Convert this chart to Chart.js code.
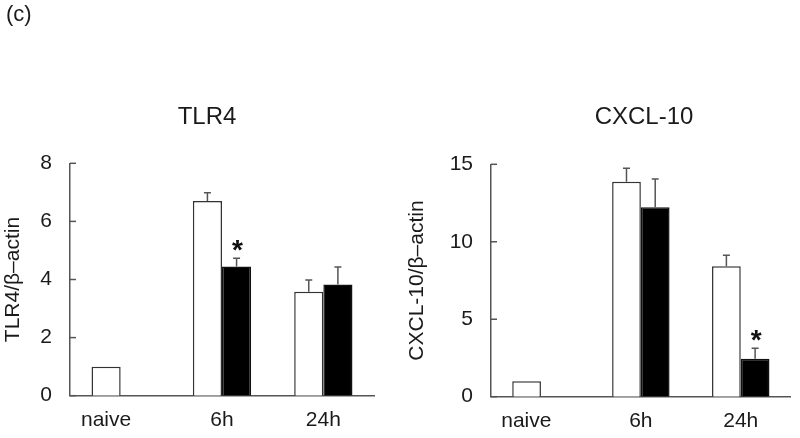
<!DOCTYPE html>
<html><head><meta charset="utf-8">
<script src="https://cdn.jsdelivr.net/npm/chart.js@4.4.1/dist/chart.umd.min.js"></script>
<style>
html,body{margin:0;padding:0;background:#fff;overflow:hidden;}
#wrap{position:relative;width:800px;height:438px;}
canvas{position:absolute;top:0;}
#c1{left:0;} #c2{left:400px;}
#lab{position:absolute;left:6px;top:2.5px;font:22px "Liberation Sans",Arial,sans-serif;line-height:1;color:#1a1a1a;}
</style></head><body>
<div id="wrap"><canvas id="c1" width="400" height="438"></canvas><canvas id="c2" width="400" height="438"></canvas><div id="lab">(c)</div></div>
<script>
// ---- data ----
const categories = ["naive", "6h", "24h"];
const tlr4White = [1.0, 6.70, 3.58];
const tlr4WhiteErr = [0, 0.29, 0.40];
const tlr4Black = [null, 4.45, 3.83];
const tlr4BlackErr = [0, 0.28, 0.60];
const tlr4BlackSig = [false, true, false];
const tlr4Max = 8, tlr4Step = 2;

const cxclWhite = [1.0, 13.88, 8.42];
const cxclWhiteErr = [0, 0.86, 0.71];
const cxclBlack = [null, 12.23, 2.45];
const cxclBlackErr = [0, 1.82, 0.67];
const cxclBlackSig = [false, false, true];
const cxclMax = 15, cxclStep = 5;

const FONT = '"Liberation Sans", Arial, sans-serif';
const TEXT = '#1a1a1a';
const LINE = '#555';

const extras = {
  id: 'extras',
  afterDatasetsDraw(chart, args, opts) {
    const ctx = chart.ctx, y = chart.scales.y, area = chart.chartArea;
    ctx.save();
    ctx.strokeStyle = LINE; ctx.lineWidth = 1.5;
    chart.data.datasets.forEach((ds, di) => {
      const meta = chart.getDatasetMeta(di);
      meta.data.forEach((bar, i) => {
        const v = ds.data[i], e = ds.errors[i];
        if (v == null) return;
        const top = y.getPixelForValue(v + (e || 0));
        if (e) {
          ctx.beginPath();
          ctx.moveTo(bar.x, bar.y); ctx.lineTo(bar.x, top);
          ctx.moveTo(bar.x - 3.5, top); ctx.lineTo(bar.x + 3.5, top);
          ctx.stroke();
        }
        if (ds.sig && ds.sig[i]) {
          ctx.fillStyle = '#111'; ctx.font = 'bold 28px ' + FONT;
          ctx.textAlign = 'center'; ctx.textBaseline = 'alphabetic';
          ctx.fillText('*', bar.x + 1, top + 1);
        }
      });
    });
    ctx.strokeStyle = LINE; ctx.lineWidth = 1.5;
    y.ticks.forEach(t => {
      const py = y.getPixelForValue(t.value);
      ctx.beginPath(); ctx.moveTo(area.left, py); ctx.lineTo(area.left + 6, py); ctx.stroke();
    });
    ctx.fillStyle = TEXT; ctx.font = '24px ' + FONT;
    ctx.textAlign = 'center'; ctx.textBaseline = 'middle';
    ctx.fillText(opts.text, opts.x, opts.y);
    ctx.restore();
  }
};

function makeChart(id, p) {
  return new Chart(document.getElementById(id), {
    type: 'bar',
    data: {
      labels: categories,
      datasets: [
        { data: p.white, errors: p.whiteErr, sig: null, backgroundColor: '#fff', borderColor: '#333', borderWidth: 1.5 },
        { data: p.black, errors: p.blackErr, sig: p.blackSig, backgroundColor: '#000', borderColor: '#111', borderWidth: 1.5 }
      ]
    },
    options: {
      responsive: false, animation: false, devicePixelRatio: 1,
      categoryPercentage: 0.575, barPercentage: 1,
      layout: { padding: { top: p.top, right: p.right, left: 0, bottom: 0 } },
      plugins: { legend: { display: false }, tooltip: { enabled: false }, extras: { text: p.title, x: p.titleX, y: p.titleY } },
      scales: {
        x: {
          grid: { display: false, drawTicks: false },
          border: { display: true, color: LINE, width: 1.5 },
          ticks: { color: TEXT, font: { family: FONT, size: 21 }, padding: 12, maxRotation: 0,
                   callback: function (v, i) { const l = this.getLabelForValue(v); return i === 0 ? l + '     ' : l; } },
          afterFit: s => { s.height = p.xh; }
        },
        y: {
          min: 0, max: p.max,
          grid: { display: false, drawTicks: false },
          border: { display: true, color: LINE, width: 1.5 },
          ticks: { stepSize: p.step, color: TEXT, font: { family: FONT, size: 21 }, padding: 18 },
          title: { display: true, text: p.ytitle, color: TEXT, font: { family: FONT, size: 21 }, padding: { top: p.ytPad, bottom: 0 } },
          afterFit: s => { s.width = p.yw; }
        }
      }
    },
    plugins: [extras]
  });
}

makeChart('c1', { white: tlr4White, whiteErr: tlr4WhiteErr, black: tlr4Black, blackErr: tlr4BlackErr, blackSig: tlr4BlackSig,
  max: tlr4Max, step: tlr4Step, title: 'TLR4', titleX: 207, titleY: 117.5, ytitle: 'TLR4/β–actin', ytPad: 1,
  top: 163.3, right: 26, xh: 42.3, yw: 70 });
makeChart('c2', { white: cxclWhite, whiteErr: cxclWhiteErr, black: cxclBlack, blackErr: cxclBlackErr, blackSig: cxclBlackSig,
  max: cxclMax, step: cxclStep, title: 'CXCL-10', titleX: 244, titleY: 117, ytitle: 'CXCL-10/β–actin', ytPad: 5,
  top: 164.3, right: 9.3, xh: 41.3, yw: 91 });
</script>
</body></html>
